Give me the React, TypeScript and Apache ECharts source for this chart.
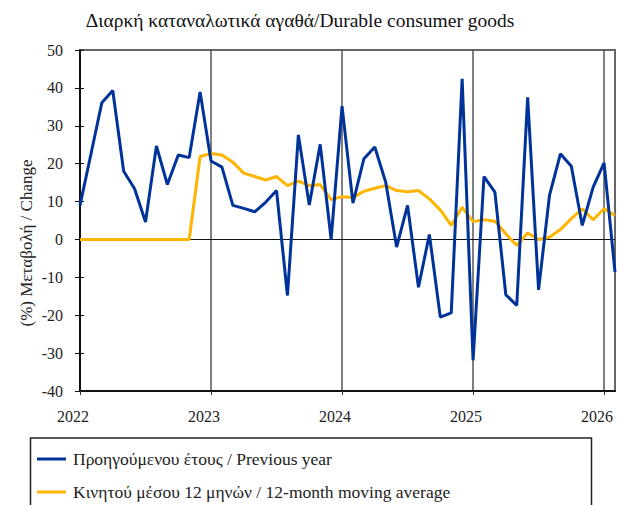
import React, { useEffect, useRef } from "react";
import * as echarts from "echarts";

const categories = [
  "2022-01","2022-02","2022-03","2022-04","2022-05","2022-06","2022-07","2022-08","2022-09","2022-10","2022-11","2022-12",
  "2023-01","2023-02","2023-03","2023-04","2023-05","2023-06","2023-07","2023-08","2023-09","2023-10","2023-11","2023-12",
  "2024-01","2024-02","2024-03","2024-04","2024-05","2024-06","2024-07","2024-08","2024-09","2024-10","2024-11","2024-12",
  "2025-01","2025-02","2025-03","2025-04","2025-05","2025-06","2025-07","2025-08","2025-09","2025-10","2025-11","2025-12",
  "2026-01","2026-02",
];

const previousYear = [
  9.0, 22.5, 36.1, 39.3, 18.0, 13.4, 4.6, 24.7, 14.5, 22.3, 21.6, 38.9,
  20.7, 19.1, 9.0, 8.2, 7.3, 9.8, 12.9, -14.8, 27.6, 9.1, 25.1, 0.0,
  35.2, 9.6, 21.3, 24.4, 15.1, -2.0, 9.0, -12.6, 1.3, -20.5, -19.4, 42.4,
  -31.9, 16.6, 12.5, -14.6, -17.4, 37.5, -13.3, 11.6, 22.6, 19.3, 3.7, 13.8,
  20.2, -8.6,
];

const movingAverage = [
  0, 0, 0, 0, 0, 0, 0, 0, 0, 0, 0, 21.9,
  22.7, 22.3, 20.4, 17.5, 16.6, 15.7, 16.6, 14.2, 15.4, 14.2, 14.5, 10.5,
  11.3, 11.1, 12.7, 13.5, 14.2, 12.9, 12.6, 12.9, 10.7, 7.8, 3.7, 8.5,
  4.7, 5.2, 4.8, 1.5, -1.6, 1.7, 0.0, 0.6, 2.6, 5.5, 8.1, 5.2,
  8.1, 6.3,
];

const yearTicks = ["2022", "2023", "2024", "2025", "2026"];

const seriesNames = [
  "Προηγούμενου έτους / Previous year",
  "Κινητού μέσου 12 μηνών / 12-month moving average",
];

const titleText = "Διαρκή καταναλωτικά αγαθά/Durable consumer goods";
const yName = "(%) Μεταβολή / Change";

const FONT = "Liberation Serif";

export default function App() {
  const ref = useRef<HTMLDivElement>(null);

  useEffect(() => {
    if (!ref.current) return;
    const chart = echarts.init(ref.current, undefined, { renderer: "svg" });
    const yearInterval = (i: number) => i % 12 === 0;
    const yearOf = (v: string) => {
      const y = v.slice(0, 4);
      return yearTicks.includes(y) ? y : "";
    };
    chart.setOption({
      animation: false,
      textStyle: { fontFamily: FONT },
      grid: {
        left: 80,
        right: 2,
        top: 50,
        bottom: 114,
        show: true,
        borderColor: "#666",
        borderWidth: 2,
      },
      graphic: [
        {
          type: "text",
          x: 300,
          y: 20,
          style: {
            text: titleText,
            fontFamily: FONT,
            fontSize: 19.5,
            fill: "#111",
            textAlign: "center",
            textVerticalAlign: "middle",
          },
        },
        {
          type: "text",
          x: 26,
          y: 243,
          rotation: Math.PI / 2,
          style: {
            text: yName,
            fontFamily: FONT,
            fontSize: 17,
            fill: "#222",
            textAlign: "center",
            textVerticalAlign: "middle",
          },
        },
        {
          type: "rect",
          shape: { x: 30.5, y: 438, width: 561, height: 90 },
          style: { fill: "none", stroke: "#222", lineWidth: 1.5 },
          silent: true,
        },
      ],
      legend: {
        orient: "vertical",
        left: 32,
        top: 445,
        height: 120,
        itemGap: 15,
        itemWidth: 29,
        itemHeight: 3,
        icon: "rect",
        textStyle: { fontFamily: FONT, fontSize: 17.5, color: "#222", padding: [0, 0, 0, 2] },
        data: seriesNames,
      },
      xAxis: {
        type: "category",
        boundaryGap: false,
        data: categories,
        axisLine: { onZero: false, lineStyle: { color: "#111", width: 2 } },
        axisTick: { show: true, interval: yearInterval, length: 4, lineStyle: { color: "#333" } },
        axisLabel: {
          interval: yearInterval,
          formatter: yearOf,
          fontFamily: FONT,
          fontSize: 16,
          color: "#222",
          margin: 17,
          padding: [0, 14, 0, 0],
        },
        splitLine: { show: true, interval: yearInterval, lineStyle: { color: "#555", width: 1.5 } },
      },
      yAxis: [
        {
          type: "value",
          min: -40,
          max: 50,
          interval: 10,
          axisLine: { show: true, lineStyle: { color: "#111", width: 2 } },
          axisTick: { show: true, length: 5, lineStyle: { color: "#111" } },
          axisLabel: { fontFamily: FONT, fontSize: 16, color: "#222", margin: 17 },
          splitLine: { show: false },
        },
        {
          type: "value",
          min: -40,
          max: 50,
          interval: 10,
          position: "left",
          axisLine: { show: false },
          axisTick: { show: true, inside: true, length: 4, lineStyle: { color: "#111" } },
          axisLabel: { show: false },
          splitLine: { show: false },
        },
      ],
      series: [
        {
          name: seriesNames[0],
          type: "line",
          data: previousYear,
          showSymbol: false,
          symbol: "none",
          lineStyle: { color: "#003399", width: 3 },
          itemStyle: { color: "#003399" },
          z: 3,
          markLine: {
            silent: true,
            symbol: "none",
            label: { show: false },
            lineStyle: { color: "#111", width: 1, type: "solid" },
            data: [{ yAxis: 0 }],
            z: 1,
          },
        },
        {
          name: seriesNames[1],
          type: "line",
          data: movingAverage,
          showSymbol: false,
          symbol: "none",
          lineStyle: { color: "#FFB400", width: 3 },
          itemStyle: { color: "#FFB400" },
          z: 2,
        },
      ],
    });
    return () => chart.dispose();
  }, []);

  return (
    <div
      ref={ref}
      style={{ position: "absolute", left: 0, top: 0, width: 617, height: 505, background: "#fff" }}
    />
  );
}
